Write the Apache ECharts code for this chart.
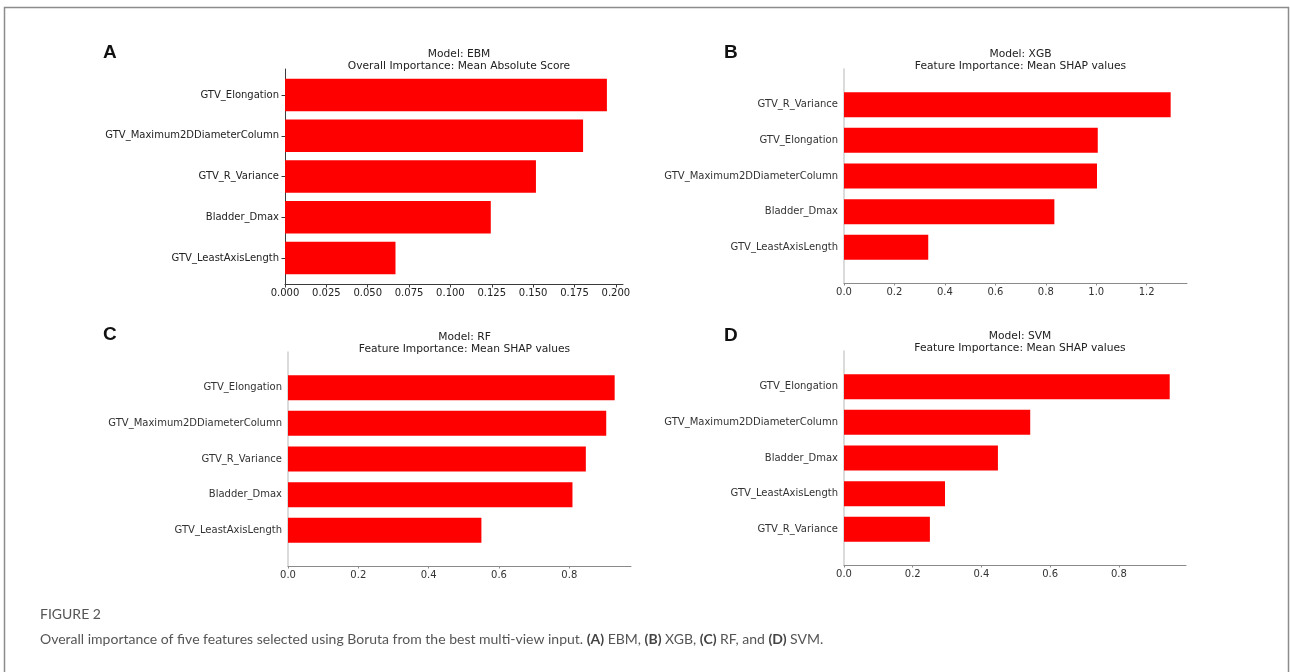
<!DOCTYPE html>
<html>
<head>
<meta charset="utf-8">
<script src="https://cdn.jsdelivr.net/npm/echarts@6/dist/echarts.min.js"></script>
<style>
  html, body { margin: 0; padding: 0; background: #ffffff; }
  #chart { width: 1290px; height: 672px; }
</style>
</head>
<body>
<div id="chart"></div>
<script>
// Feature importance per model (top to bottom as listed)
const categoriesEBM = ['GTV_Elongation', 'GTV_Maximum2DDiameterColumn', 'GTV_R_Variance', 'Bladder_Dmax', 'GTV_LeastAxisLength'];
const valuesEBM = [0.1946, 0.1802, 0.1517, 0.1244, 0.0668];
const ticksEBM = [0, 0.025, 0.05, 0.075, 0.1, 0.125, 0.15, 0.175, 0.2];

const categoriesXGB = ['GTV_R_Variance', 'GTV_Elongation', 'GTV_Maximum2DDiameterColumn', 'Bladder_Dmax', 'GTV_LeastAxisLength'];
const valuesXGB = [1.295, 1.006, 1.003, 0.834, 0.334];
const ticksXGB = [0, 0.2, 0.4, 0.6, 0.8, 1.0, 1.2];

const categoriesRF = ['GTV_Elongation', 'GTV_Maximum2DDiameterColumn', 'GTV_R_Variance', 'Bladder_Dmax', 'GTV_LeastAxisLength'];
const valuesRF = [0.929, 0.905, 0.847, 0.809, 0.550];
const ticksRF = [0, 0.2, 0.4, 0.6, 0.8];

const categoriesSVM = ['GTV_Elongation', 'GTV_Maximum2DDiameterColumn', 'Bladder_Dmax', 'GTV_LeastAxisLength', 'GTV_R_Variance'];
const valuesSVM = [0.948, 0.542, 0.448, 0.294, 0.250];
const ticksSVM = [0, 0.2, 0.4, 0.6, 0.8];

const panelTitles = [
  'Model: EBM\nOverall Importance: Mean Absolute Score',
  'Model: XGB\nFeature Importance: Mean SHAP values',
  'Model: RF\nFeature Importance: Mean SHAP values',
  'Model: SVM\nFeature Importance: Mean SHAP values'
];
const panelLetters = ['A', 'B', 'C', 'D'];

// Axis-box layout of each panel (pixels) and plotting style
const FONT = '"DejaVu Sans", sans-serif';
const X_MARGIN = 0.05; // autoscale headroom past the longest bar
const layouts = [
  { left: 285, top: 69,  width: 338, height: 215, pad: 0.64, bar: '80%', decimals: 3, ebm: true,  letterX: 103, letterY: 53 },
  { left: 844, top: 69,  width: 343, height: 214, pad: 1.0,  bar: '70%', decimals: 1, ebm: false, letterX: 724, letterY: 53 },
  { left: 288, top: 352, width: 343, height: 214, pad: 1.0,  bar: '70%', decimals: 1, ebm: false, letterX: 103, letterY: 335 },
  { left: 844, top: 351, width: 342, height: 214, pad: 1.0,  bar: '70%', decimals: 1, ebm: false, letterX: 724, letterY: 336 }
];
const panelData = [
  { cats: categoriesEBM, vals: valuesEBM, ticks: ticksEBM },
  { cats: categoriesXGB, vals: valuesXGB, ticks: ticksXGB },
  { cats: categoriesRF,  vals: valuesRF,  ticks: ticksRF },
  { cats: categoriesSVM, vals: valuesSVM, ticks: ticksSVM }
];

const grid = [], xAxis = [], yAxis = [], series = [], title = [], graphic = [];

layouts.forEach((L, i) => {
  const D = panelData[i];
  const n = D.cats.length;
  const xMax = Math.max(...D.vals) * (1 + X_MARGIN);
  const inset = (L.pad - 0.5) / (n - 1 + 2 * L.pad) * L.height;
  const spineColor = L.ebm ? '#3a3a3a' : '#8a8a8a';
  const leftSpine = L.ebm ? '#3a3a3a' : '#cfcfcf';
  const labelColor = L.ebm ? '#222222' : '#333333';

  // outer box: spines and value ticks
  const outer = grid.length;
  grid.push({ left: L.left, top: L.top, width: L.width, height: L.height, containLabel: false });
  xAxis.push({
    type: 'value', gridIndex: outer, min: 0, max: xMax,
    axisLine: { show: true, lineStyle: { color: spineColor, width: 1 } },
    axisTick: { show: true, length: L.ebm ? 3.5 : 2.5, lineStyle: { color: spineColor }, customValues: D.ticks },
    axisLabel: {
      show: true, margin: 4, color: labelColor, fontFamily: FONT, fontSize: 10,
      customValues: D.ticks, formatter: v => v.toFixed(L.decimals)
    },
    splitLine: { show: false }
  });
  yAxis.push({
    type: 'value', gridIndex: outer, min: 0, max: 1,
    axisLine: { show: true, lineStyle: { color: leftSpine, width: L.ebm ? 1 : 1.5 } },
    axisTick: { show: false }, axisLabel: { show: false }, splitLine: { show: false }
  });

  // inner band area: categories and bars
  const inner = grid.length;
  grid.push({ left: L.left, top: L.top + inset, width: L.width, height: L.height - 2 * inset, containLabel: false });
  xAxis.push({ type: 'value', gridIndex: inner, min: 0, max: xMax, show: false });
  yAxis.push({
    type: 'category', gridIndex: inner, data: D.cats, inverse: true,
    axisLine: { show: false },
    axisTick: { show: L.ebm, alignWithLabel: true, length: 3.5, lineStyle: { color: spineColor } },
    axisLabel: { margin: 6, color: labelColor, fontFamily: FONT, fontSize: 10 },
    splitLine: { show: false }
  });
  series.push({
    type: 'bar', xAxisIndex: inner, yAxisIndex: inner, data: D.vals,
    barWidth: L.bar, itemStyle: { color: '#ff0000' }, silent: true
  });

  title.push({
    text: panelTitles[i], left: L.left + L.width / 2, top: L.top - 26, textAlign: 'center',
    textStyle: { fontFamily: FONT, fontSize: 10.7, fontWeight: 'normal', color: '#222222', lineHeight: 12 }
  });
  graphic.push({
    type: 'text', left: L.letterX, top: L.letterY - 10,
    style: { text: panelLetters[i], fontFamily: '"Liberation Sans", Arial, sans-serif', fontSize: 19, fontWeight: 'bold', fill: '#111111' }
  });
});

// figure frame and caption
graphic.push({
  type: 'rect', shape: { x: 4.5, y: 7.5, width: 1284, height: 700 },
  style: { fill: 'none', stroke: '#8c8c8c', lineWidth: 1.5 }, silent: true
});
graphic.push({
  type: 'text', left: 40, top: 607,
  style: { text: 'FIGURE 2', fontFamily: 'Lato, sans-serif', fontSize: 14, fill: '#555555' }
});
graphic.push({
  type: 'text', left: 40, top: 632,
  style: {
    text: '{n|Overall importance of five features selected using Boruta from the best multi-view input. }{b|(A)}{n| EBM, }{b|(B)}{n| XGB, }{b|(C)}{n| RF, and }{b|(D)}{n| SVM.}',
    rich: {
      n: { fontFamily: 'Lato, sans-serif', fontSize: 14, fill: '#555555' },
      b: { fontFamily: 'Lato, sans-serif', fontSize: 14, fontWeight: 'bold', fill: '#444444' }
    }
  }
});

const chart = echarts.init(document.getElementById('chart'), null, { renderer: 'canvas' });
chart.setOption({
  animation: false,
  backgroundColor: '#ffffff',
  title, grid, xAxis, yAxis, series, graphic
});
</script>
</body>
</html>
